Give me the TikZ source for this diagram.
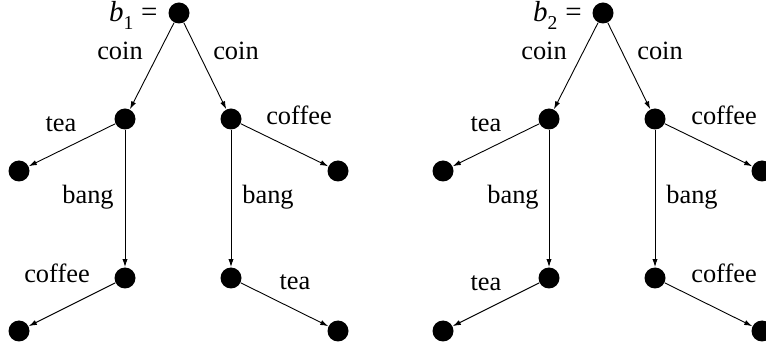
\documentclass[tikz,border=0pt]{standalone}
\usepackage{fontspec}
\setmainfont{Liberation Serif}
\usetikzlibrary{arrows.meta}
\newcommand{\blab}[1]{{\fontsize{14.5}{15}\selectfont\textit{b}}\raisebox{-0.3em}{\fontsize{9.8}{10}\selectfont #1}\kern0.3em{\fontsize{14.5}{15}\selectfont =}}
\begin{document}
\begin{tikzpicture}[x=0.5pt,y=-0.5pt,
  dot/.style={circle,fill=black,draw=none,inner sep=0pt,minimum size=10.5pt},
  arr/.style={-{Latex[length=4pt,width=2.6pt]},line width=0.45pt},
  lbl/.style={anchor=base,inner sep=0pt,font=\fontsize{13.2}{15}\selectfont},
  every node/.append style={font=\fontsize{13.2}{15}\selectfont}]
\useasboundingbox (0,0) rectangle (766,352);
% tree 1
\node[dot] (r1) at (179,13) {};
\node[dot] (a1) at (125,119) {};
\node[dot] (b1) at (231,119) {};
\node[dot] (c1) at (19,171) {};
\node[dot] (d1) at (338,171) {};
\node[dot] (e1) at (125,278) {};
\node[dot] (f1) at (231,278) {};
\node[dot] (g1) at (19,331) {};
\node[dot] (h1) at (338,331) {};
\draw[arr] (r1) -- (a1);
\draw[arr] (r1) -- (b1);
\draw[arr] (a1) -- (c1);
\draw[arr] (b1) -- (d1);
\draw[arr] (a1) -- (e1);
\draw[arr] (b1) -- (f1);
\draw[arr] (e1) -- (g1);
\draw[arr] (f1) -- (h1);
\node[lbl,anchor=base east] (t1) at (158,22) {\blab{1}};
\node[lbl] (l1a) at (120,60) {coin};
\node[lbl] (l1b) at (236,60) {coin};
\node[lbl] (l1c) at (61,132) {tea};
\node[lbl] (l1d) at (299,125) {coffee};
\node[lbl] (l1e) at (88,204) {bang};
\node[lbl] (l1f) at (268,204) {bang};
\node[lbl] (l1g) at (57,283) {coffee};
\node[lbl] (l1h) at (295,290) {tea};
% tree 2
\node[dot] (r2) at (603,13) {};
\node[dot] (a2) at (549,119) {};
\node[dot] (b2) at (655,119) {};
\node[dot] (c2) at (443,171) {};
\node[dot] (d2) at (762,171) {};
\node[dot] (e2) at (549,278) {};
\node[dot] (f2) at (655,278) {};
\node[dot] (g2) at (443,331) {};
\node[dot] (h2) at (762,331) {};
\draw[arr] (r2) -- (a2);
\draw[arr] (r2) -- (b2);
\draw[arr] (a2) -- (c2);
\draw[arr] (b2) -- (d2);
\draw[arr] (a2) -- (e2);
\draw[arr] (b2) -- (f2);
\draw[arr] (e2) -- (g2);
\draw[arr] (f2) -- (h2);
\node[lbl,anchor=base east] (t2) at (582,22) {\blab{2}};
\node[lbl] (l2a) at (544,60) {coin};
\node[lbl] (l2b) at (660,60) {coin};
\node[lbl] (l2c) at (486,132) {tea};
\node[lbl] (l2d) at (724,125) {coffee};
\node[lbl] (l2e) at (513,204) {bang};
\node[lbl] (l2f) at (692,204) {bang};
\node[lbl] (l2g) at (486,291) {tea};
\node[lbl] (l2h) at (724,283) {coffee};
\end{tikzpicture}
\end{document}
